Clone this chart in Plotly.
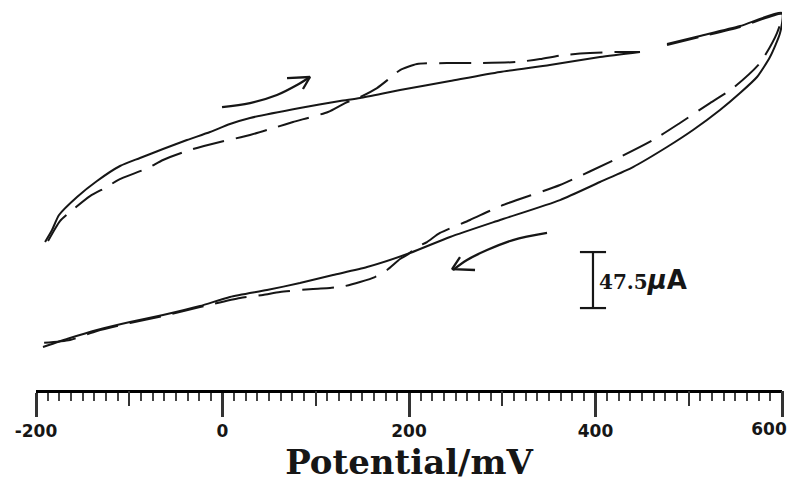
import plotly.graph_objects as go

# ---- data (potential in mV, current in microampere) ----
solid_fwd_mV = [-190.3, -182.8, -175.3, -156.0, -134.6, -109.9, -88.5, -63.8, -38.1, -13.4, 8.0, 29.5,
                83.0, 126.0, 147.5, 190.4, 244.0, 297.6, 351.0, 404.8, 447.7, None, 476.7, 512.0, 555.0, 600.0]
solid_fwd_uA = [-10.2, 0.0, 12.7, 28.0, 41.6, 54.3, 61.1, 68.7, 76.3, 83.1, 89.9, 95.0,
                103.5, 109.4, 112.0, 118.7, 126.4, 134.0, 140.0, 146.7, 151.0, None, 157.8, 164.6, 173.0, 184.1]
solid_rev_mV = [597.9, 587.1, 573.2, 555.0, 533.5, 504.6, 476.7, 440.2, 404.8, 361.9, 297.6, 244.0,
                201.1, 155.0, 118.5, 83.0, 47.7, 8.0, -24.1, -63.8, -99.2, -134.6, -163.5, -192.5]
solid_rev_uA = [167.1, 146.7, 129.8, 116.2, 101.8, 84.8, 70.4, 53.4, 40.7, 25.4, 8.5, -5.9,
                -19.5, -31.4, -38.2, -45.0, -50.9, -56.8, -64.5, -72.1, -78.0, -84.8, -91.6, -99.2]

dash_fwd_mV = [-187.1, -174.3, -163.5, -142.1, -123.9, -112.1, -79.9, -63.8, -34.8, -2.7, 29.5, 58.4,
               75.6, 113.1, 131.4, 147.5, 165.7, 179.6, 190.4, 208.6, 240.8, 276.1, 315.8, 340.5,
               365.2, 394.1, 423.1, 447.7, None, 476.7, 512.0, 555.0, 600.0]
dash_fwd_uA = [-9.3, 7.6, 15.3, 28.8, 36.5, 42.4, 52.6, 59.4, 67.9, 74.6, 80.6, 87.4,
               91.6, 100.1, 107.7, 112.8, 120.4, 128.9, 135.7, 140.8, 141.6, 141.6, 142.5, 145.0,
               148.4, 150.1, 151.0, 151.0, None, 156.9, 163.7, 172.2, 183.2]
dash_rev_mV = [594.6, 576.4, 547.5, 522.8, 490.6, 461.7, 426.3, 361.9, 300.8, 265.4, 233.2, 219.3,
               208.6, 197.9, 190.4, 176.4, 163.5, 147.5, 131.4, 115.3, 97.1, 61.7, 43.4, 18.8,
               -24.1, -63.8, -99.2, -134.6, -163.5, -192.5]
dash_rev_uA = [167.1, 141.6, 120.4, 107.7, 90.8, 76.3, 61.9, 38.2, 21.2, 8.5, -2.5, -10.2,
               -14.4, -21.2, -24.6, -33.9, -39.9, -44.1, -47.5, -49.2, -50.0, -52.6, -55.1, -57.7,
               -65.3, -72.9, -78.9, -85.7, -93.3, -95.8]

# scan-direction arrows
arrow1_mV = [-0.5, 29.5, 58.4, 79.9, 93.8]
arrow1_uA = [104.3, 107.7, 114.5, 123.0, 129.8]
arrow1_head_mV = [69.2, 93.8, 86.3]
arrow1_head_uA = [128.9, 129.8, 119.6]
arrow2_mV = [348.0, 311.5, 283.7, 262.2, 247.2]
arrow2_uA = [-2.5, -8.5, -17.0, -25.4, -33.9]
arrow2_head_mV = [254.7, 246.2, 270.8]
arrow2_head_uA = [-22.9, -33.1, -33.9]

# scale bar
bar_x = 397.3
bar_cap = 14.0
bar_top = -18.7
bar_len = 47.5
bar_label = "47.5"
bar_unit = "μA"

major_ticks = [-200, 0, 200, 400, 600]
major_text = ["-200", "0", "200", "400", ""]
medium_ticks = [-100, 100, 300, 500]

INK = "#161616"

fig = go.Figure()
fig.add_trace(go.Scatter(x=solid_fwd_mV + solid_rev_mV, y=solid_fwd_uA + solid_rev_uA, mode="lines",
                         line=dict(color=INK, width=2.0, shape="spline", smoothing=0.6), hoverinfo="skip"))
fig.add_trace(go.Scatter(x=dash_fwd_mV + dash_rev_mV, y=dash_fwd_uA + dash_rev_uA, mode="lines",
                         line=dict(color=INK, width=2.0, dash="32px,12px", shape="spline", smoothing=0.6),
                         hoverinfo="skip"))
for xs, ys, shp in [(arrow1_mV, arrow1_uA, "spline"), (arrow1_head_mV, arrow1_head_uA, "linear"),
                    (arrow2_mV, arrow2_uA, "spline"), (arrow2_head_mV, arrow2_head_uA, "linear")]:
    fig.add_trace(go.Scatter(x=xs, y=ys, mode="lines", line=dict(color=INK, width=2.3, shape=shp),
                             hoverinfo="skip"))

bar_bot = bar_top - bar_len
fig.add_trace(go.Scatter(
    x=[bar_x - bar_cap, bar_x + bar_cap, None, bar_x, bar_x, None, bar_x - bar_cap, bar_x + bar_cap],
    y=[bar_top, bar_top, None, bar_top, bar_bot, None, bar_bot, bar_bot],
    mode="lines", line=dict(color=INK, width=2.2), hoverinfo="skip"))
fig.add_trace(go.Scatter(x=[None], y=[None], xaxis="x2", hoverinfo="skip"))
fig.add_trace(go.Scatter(x=[None], y=[None], xaxis="x3", hoverinfo="skip"))

fig.add_annotation(x=bar_x + 4.5, y=(bar_top + bar_bot) / 2, xanchor="left", yanchor="middle",
                   showarrow=False,
                   text=("<span style='font-family:DejaVu Serif'><b>" + bar_label + "</b></span>"
                         "<span style='font-family:DejaVu Sans;font-size:26px'><b><i>μ</i>A</b></span>"),
                   font=dict(family="DejaVu Serif", size=20, color=INK))

tickfont = dict(family="DejaVu Sans", size=17, color=INK, weight="bold")
fig.update_layout(
    width=797, height=482,
    margin=dict(l=36, r=15, t=0, b=92),
    paper_bgcolor="white", plot_bgcolor="white",
    showlegend=False,
    xaxis=dict(range=[-200, 600], showgrid=False, zeroline=False,
               showline=True, linecolor="black", linewidth=2.5,
               tickmode="array", tickvals=major_ticks, ticktext=major_text,
               ticks="outside", ticklen=24, tickwidth=2.5, tickcolor="#333",
               tickfont=tickfont,
               minor=dict(dtick=12.5, tick0=-200, ticks="outside", ticklen=8, tickwidth=2, tickcolor="#444"),
               title=dict(text="Potential/mV", standoff=12,
                          font=dict(family="DejaVu Serif", size=34, color=INK, weight="bold")),
               automargin=False),
    xaxis2=dict(overlaying="x", matches="x", anchor="y", side="bottom", showgrid=False, zeroline=False,
                showline=False, tickmode="array", tickvals=medium_ticks, ticks="outside", ticklen=15,
                tickwidth=2.2, tickcolor="#333", showticklabels=False),
    xaxis3=dict(overlaying="x", matches="x", anchor="y", side="bottom", showgrid=False, zeroline=False,
                showline=False, tickmode="array", tickvals=[600], ticktext=["600"], ticks="outside",
                ticklen=24, tickwidth=2.5, tickcolor="#333", tickfont=tickfont, ticklabelshift=-13),
    yaxis=dict(range=[-135.7, 195.1], visible=False),
)

fig.write_html("out.html", config={"displayModeBar": False},
               post_script="document.body.style.margin='0';document.body.style.overflow='hidden';")
